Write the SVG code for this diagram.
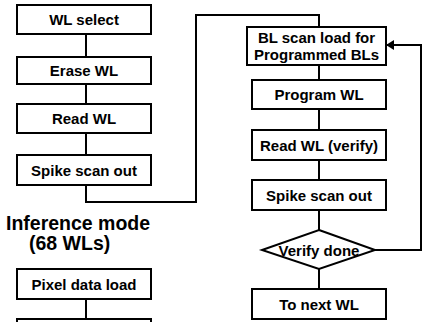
<svg xmlns="http://www.w3.org/2000/svg" width="424" height="322" viewBox="0 0 424 322">
<defs>
<style>
.box{fill:#fff;stroke:#000;stroke-width:2}
.t{font-family:"Liberation Sans",Arial,sans-serif;font-weight:bold;font-size:15px;text-anchor:middle;fill:#000}
.big{font-family:"Liberation Sans",Arial,sans-serif;font-weight:bold;font-size:19.5px;fill:#000}
.c{fill:none;stroke:#000;stroke-width:2}
</style>
<marker id="ah" markerWidth="8" markerHeight="10" refX="7" refY="5" orient="auto" markerUnits="userSpaceOnUse">
<path d="M0,0 L8,5 L0,10 Z" fill="#000"/>
</marker>
</defs>
<rect width="424" height="322" fill="#fff"/>
<g id="connectors">
<path class="c" d="M86,34 V57 M86,84 V104 M86,133 V155"/>
<path class="c" d="M86,185 V202 H196 V15 H319 V27"/>
<path class="c" d="M319,65 V80 M319,109 V130 M319,160 V180 M319,210 V230 M319,269 V289"/>
<path class="c" d="M375,250 H421 V45 H387" marker-end="url(#ah)"/>
<path class="c" d="M86,299 V319"/>
</g>
<g id="wl-select"><rect class="box" x="17" y="5" width="134" height="29"/><text class="t" x="84" y="25">WL select</text></g>
<g id="erase-wl"><rect class="box" x="17" y="57" width="134" height="27"/><text class="t" x="84" y="76">Erase WL</text></g>
<g id="read-wl"><rect class="box" x="17" y="104" width="134" height="29"/><text class="t" x="84" y="124">Read WL</text></g>
<g id="spike-scan-left"><rect class="box" x="17" y="155" width="134" height="30"/><text class="t" x="84" y="175.5">Spike scan out</text></g>
<g id="inference-title"><text class="big" x="6" y="230">Inference mode</text><text class="big" x="29" y="250">(68 WLs)</text></g>
<g id="pixel-data-load"><rect class="box" x="17" y="269" width="134" height="30"/><text class="t" x="84" y="289.5">Pixel data load</text></g>
<g id="next-inference"><rect class="box" x="17" y="319" width="134" height="30"/></g>
<g id="bl-scan-load"><rect class="box" x="247" y="27" width="139" height="38"/><text class="t" x="316.5" y="43">BL scan load for</text><text class="t" x="316.5" y="60">Programmed BLs</text></g>
<g id="program-wl"><rect class="box" x="252" y="80" width="134" height="29"/><text class="t" x="319" y="100">Program WL</text></g>
<g id="read-wl-verify"><rect class="box" x="252" y="130" width="134" height="30"/><text class="t" x="319" y="150.5">Read WL (verify)</text></g>
<g id="spike-scan-right"><rect class="box" x="252" y="180" width="134" height="30"/><text class="t" x="319" y="200.5">Spike scan out</text></g>
<g id="verify-done"><polygon class="box" points="319,230 375,250 319,269 262,250"/><text class="t" x="319" y="255.5">Verify done</text></g>
<g id="to-next-wl"><rect class="box" x="252" y="289" width="134" height="30"/><text class="t" x="319" y="309.5">To next WL</text></g>
</svg>
